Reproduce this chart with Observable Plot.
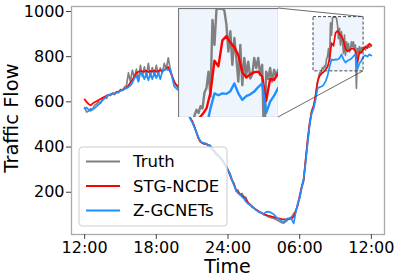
<!DOCTYPE html>
<html><head><meta charset="utf-8">
<script src="https://cdn.jsdelivr.net/npm/d3@7"></script>
<script src="https://cdn.jsdelivr.net/npm/@observablehq/plot@0.6"></script>
<style>
html,body{margin:0;padding:0;background:#fff;}
#chart{position:relative;width:399px;height:279px;}
#inset{position:absolute;left:178px;top:8px;width:100px;height:109px;overflow:hidden;}
</style></head><body><div id="chart"><div id="inset"></div></div>
<script>
// ---------- data ----------
const seriesNames = ["Truth", "STG-NCDE", "Z-GCNETs"];
const seriesColors = ["#808080", "#ff0000", "#1e90ff"];
const xTickHours = [0, 6, 12, 18, 24];            // hours since 12:00
const xTickLabels = ["12:00", "18:00", "24:00", "06:00", "12:00"];
const yTicks = [200, 400, 600, 800, 1000];
const zoomHours = [19.16, 23.35];
const zoomFlow = [735, 975];

// Truth: 10-min steps 12:00-06:50, 5-min steps 07:00-11:15, 10-min steps 11:20-12:00
const truthA = [
 575,555,560,570,565,585,
 590,600,595,615,620,615,
 632,628,640,632,645,640,
 655,650,665,672,728,690,
 740,705,745,690,762,712,
 755,710,770,712,752,715,
 762,720,750,728,770,745,
 795,745,712,690,672,660,
 640,615,595,570,548,530,
 515,490,468,440,425,420,
 412,416,405,408,390,385,
 368,365,350,345,328,318,
 295,285,252,240,205,210,
 188,195,180,178,150,148,
 135,130,122,118,110,108,
 100,98,92,90,86,84,
 80,75,70,65,63,70,
 78,85,92,105,118,140,
 175,218,250,345,420,505
];
const truthFine = [
 560,572,582,600,625,660,690,710,728,720,740,752,
 745,760,755,790,800,836,781,950,895,972,976,974,
 976,970,940,880,925,851,910,866,814,895,806,866,
 829,858,821,830,866,844,866,829,851,660,836,820,
 844,814,840,825
];
const truthB = [840,830,852,842,848];

// Predictions: 10-min steps from 12:00 to 12:00
const stgncde = [
 611,600,590,585,592,598,
 603,608,612,618,622,628,
 630,633,636,638,642,646,
 650,654,658,663,672,685,
 698,712,728,733,736,735,
 734,738,732,737,734,739,
 733,737,740,735,741,748,
 754,732,712,688,676,668,
 650,625,600,575,550,530,
 515,495,470,445,425,418,
 416,413,410,406,395,383,
 372,362,355,345,330,315,
 300,275,255,235,212,200,
 193,185,178,168,155,145,
 138,130,124,118,113,108,
 104,100,97,95,92,90,
 87,85,83,81,80,80,
 81,82,85,92,115,145,
 185,225,255,345,435,505,
 555,580,630,690,715,725,
 732,742,755,790,860,848,
 905,914,900,890,872,835,
 823,830,835,836,825,772,
 820,818,832,845,838,858,
 850
];
const zgcnets = [
 570,575,565,560,568,572,
 580,588,596,606,615,625,
 630,632,636,636,640,644,
 648,652,656,660,665,672,
 685,705,715,690,730,722,
 700,728,695,725,700,730,
 705,728,700,735,740,745,
 740,745,705,668,660,652,
 640,615,590,565,545,525,
 510,490,468,445,428,420,
 418,415,410,404,393,380,
 370,362,352,342,328,312,
 298,278,255,230,210,195,
 190,180,172,158,150,144,
 138,130,122,115,112,108,
 104,112,114,112,108,102,
 92,85,78,72,68,78,
 84,84,80,62,110,150,
 175,220,262,330,420,495,
 548,570,610,660,665,668,
 675,690,715,755,788,784,
 788,787,793,810,788,774,
 782,786,792,802,810,745,
 770,783,800,806,800,810,
 805
];

// ---------- build tables ----------
const truthMinutes = d3.range(0, 1140, 10).concat(d3.range(1140, 1400, 5), d3.range(1400, 1441, 10));
const truthValues = truthA.concat(truthFine, truthB);
const predMinutes = d3.range(0, 1441, 10);
const truth = truthMinutes.map((m, i) => ({t: m / 60, v: truthValues[i]}));
const stg = predMinutes.map((m, i) => ({t: m / 60, v: stgncde[i]}));
const zg = predMinutes.map((m, i) => ({t: m / 60, v: zgcnets[i]}));
if (truthMinutes.length !== truthValues.length || predMinutes.length !== stgncde.length || predMinutes.length !== zgcnets.length)
  throw new Error("length mismatch " + truthMinutes.length + " " + truthValues.length + " " + stgncde.length + " " + zgcnets.length);
const seriesData = [truth, stg, zg];

// ---------- main plot ----------
const W = 399, H = 279;
const font = "DejaVu Sans, sans-serif";
const main = Plot.plot({
  width: W, height: H,
  marginLeft: 71, marginRight: 15, marginTop: 6, marginBottom: 45,
  style: {fontFamily: font, fontSize: "16px", background: "white", color: "black"},
  x: {domain: [-1.1, 25.1]},
  y: {domain: [13, 1022]},
  marks: [
    Plot.rect([{x1: zoomHours[0], x2: zoomHours[1], y1: zoomFlow[0], y2: zoomFlow[1]}],
      {x1: "x1", x2: "x2", y1: "y1", y2: "y2", fill: "#eef5fd"}),
    ...seriesData.map((d, i) => Plot.line(d, {x: "t", y: "v", stroke: seriesColors[i], strokeWidth: 1.7})),
    Plot.rect([{x1: zoomHours[0], x2: zoomHours[1], y1: zoomFlow[0], y2: zoomFlow[1]}],
      {x1: "x1", x2: "x2", y1: "y1", y2: "y2", fill: "none", stroke: "#333", strokeWidth: 0.9, strokeDasharray: "3,2"}),
    Plot.frame({stroke: "#aaaaaa", strokeWidth: 1.3}),
    Plot.axisX({ticks: xTickHours, tickFormat: d => xTickLabels[xTickHours.indexOf(d)], tickSize: 5, tickPadding: 2, fontSize: 16, label: null, stroke: "#444"}),
    Plot.axisY({ticks: yTicks, tickFormat: d => String(d), tickSize: 5, tickPadding: 2, fontSize: 16, label: null, stroke: "#444"})
  ]
});
document.getElementById("chart").insertBefore(main, document.getElementById("inset"));

const svg = d3.select(main);
const sx = main.scale("x"), sy = main.scale("y");
const inset = {x: 178, y: 8, w: 100, h: 109};
const rx2 = sx.apply(zoomHours[1]);
const ryTop = sy.apply(zoomFlow[1]), ryBot = sy.apply(zoomFlow[0]);
// connector lines
[[inset.y, ryTop], [inset.y + inset.h, ryBot]].forEach(([iy, ry]) => {
  svg.append("line").attr("x1", inset.x + inset.w).attr("y1", iy).attr("x2", rx2).attr("y2", ry)
    .attr("stroke", "#444").attr("stroke-width", 0.8);
});

// axis labels
svg.append("text").attr("x", (71 + W - 15) / 2).attr("y", 273).attr("text-anchor", "middle")
  .attr("font-family", font).attr("font-size", 19).attr("fill", "black").text("Time");
svg.append("text").attr("transform", "translate(18,118) rotate(-90)").attr("text-anchor", "middle")
  .attr("font-family", font).attr("font-size", 19.5).attr("fill", "black").text("Traffic Flow");

// legend
const lg = svg.append("g");
lg.append("rect").attr("x", 79).attr("y", 147).attr("width", 148).attr("height", 79).attr("rx", 3.5)
  .attr("fill", "white").attr("fill-opacity", 0.8).attr("stroke", "#cccccc").attr("stroke-width", 1);
seriesNames.forEach((name, i) => {
  const base = 167 + i * 24.5;
  lg.append("line").attr("x1", 86).attr("x2", 120).attr("y1", base - 5.5).attr("y2", base - 5.5)
    .attr("stroke", seriesColors[i]).attr("stroke-width", 2);
  lg.append("text").attr("x", 133).attr("y", base).attr("text-anchor", "start").attr("font-family", font).attr("font-size", 16.5)
    .attr("fill", "black").text(name);
});

// ---------- inset ----------
const insetPlot = Plot.plot({
  width: inset.w, height: inset.h, margin: 0,
  style: {background: "transparent"},
  x: {domain: zoomHours, axis: null},
  y: {domain: zoomFlow, axis: null},
  marks: [
    Plot.frame({fill: "#eef5fd"}),
    ...seriesData.map((d, i) => Plot.line(d, {x: "t", y: "v", stroke: seriesColors[i], strokeWidth: 2.4, clip: true})),
    Plot.frame({stroke: "#777777", strokeWidth: 1.2})
  ]
});
document.getElementById("inset").appendChild(insetPlot);
</script>
</body></html>
